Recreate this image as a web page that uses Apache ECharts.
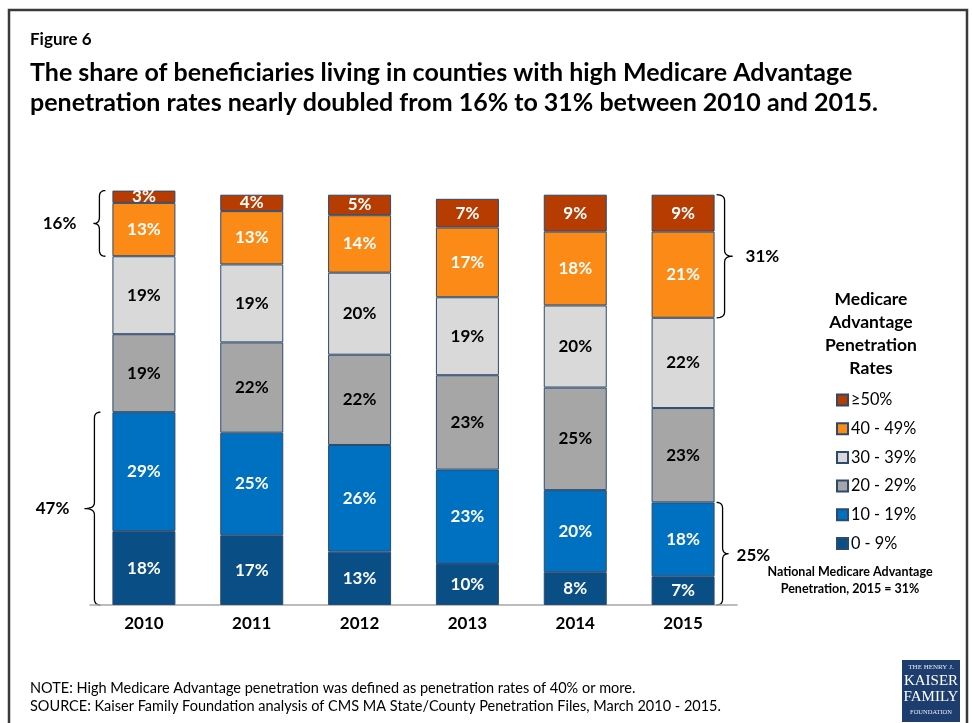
<!DOCTYPE html>
<html>
<head>
<meta charset="utf-8">
<script src="https://cdn.jsdelivr.net/npm/echarts@6/dist/echarts.min.js"></script>
<style>
  html, body { margin: 0; padding: 0; background: #fff; }
  #chart { width: 972px; height: 723px; }
</style>
</head>
<body>
<div id="chart"></div>
<script>
// Share of Medicare beneficiaries by county MA penetration rate, 2010-2015
const years = ['2010', '2011', '2012', '2013', '2014', '2015'];
const rate0to9 = [18, 17, 13, 10, 8, 7];
const rate10to19 = [29, 25, 26, 23, 20, 18];
const rate20to29 = [19, 22, 22, 23, 25, 23];
const rate30to39 = [19, 19, 20, 19, 20, 22];
const rate40to49 = [13, 13, 14, 17, 18, 21];
const rate50plus = [3, 4, 5, 7, 9, 9];

// Bracket labels: high-penetration share (>=40%) and low share (<20%), first and last year
const highShare = ['16%', '31%'];
const lowShare = ['47%', '25%'];

const FONT = 'Lato, "Open Sans", sans-serif';

const seriesDefs = [
  { name: '0 - 9%', data: rate0to9, color: '#0A4E86', text: '#fff' },
  { name: '10 - 19%', data: rate10to19, color: '#0070C0', text: '#fff' },
  { name: '20 - 29%', data: rate20to29, color: '#A6A6A6', text: '#000' },
  { name: '30 - 39%', data: rate30to39, color: '#D9D9D9', text: '#000' },
  { name: '40 - 49%', data: rate40to49, color: '#FB8A16', text: '#fff' },
  { name: '\u226550%', data: rate50plus, color: '#B63C02', text: '#fff' }
];

const chart = echarts.init(document.getElementById('chart'));

chart.setOption({
  backgroundColor: '#fff',
  animation: false,
  textStyle: { fontFamily: FONT },
  grid: { left: 90, right: 235, top: 194.7, bottom: 118, containLabel: false },
  xAxis: {
    type: 'category',
    data: years,
    axisLine: { show: true, lineStyle: { color: '#A6A6A6', width: 1.5 } },
    axisTick: { show: false },
    axisLabel: { margin: 10, fontSize: 17, fontWeight: 'bold', color: '#000', fontFamily: FONT }
  },
  yAxis: {
    type: 'value', min: 0, max: 100, show: false,
    splitLine: { show: false }
  },
  legend: {
    orient: 'vertical',
    left: 836,
    top: 391,
    padding: 0,
    itemWidth: 11,
    itemHeight: 11,
    itemGap: 10.7,
    icon: 'rect',
    data: seriesDefs.map(s => s.name).reverse(),
    textStyle: { fontSize: 16.3, color: '#000', lineHeight: 18, fontFamily: FONT, padding: [0, 0, 0, -2] }
  },
  series: seriesDefs.map(s => ({
    name: s.name,
    type: 'bar',
    stack: 'share',
    barWidth: 63,
    clip: false,
    data: s.data,
    itemStyle: { color: s.color, borderColor: '#2C4A6E', borderWidth: 1 },
    label: {
      show: true,
      position: 'inside',
      formatter: '{c}%',
      color: s.text,
      fontSize: 17,
      fontWeight: 'bold',
      fontFamily: FONT
    }
  }))
});

// Curly brace as a sampled polyline; dir = -1 points left, +1 points right
function bracePoints(xArm, y1, y2, dir, depth, tip) {
  const xs = xArm + dir * depth;
  const xt = xs + dir * tip;
  const ym = (y1 + y2) / 2;
  const r = 6;
  const pts = [];
  function quad(p0, c, p1) {
    for (let k = 0; k <= 8; k++) {
      const t = k / 8, u = 1 - t;
      pts.push([u * u * p0[0] + 2 * u * t * c[0] + t * t * p1[0],
                u * u * p0[1] + 2 * u * t * c[1] + t * t * p1[1]]);
    }
  }
  quad([xArm, y1], [xs, y1], [xs, y1 + r]);
  pts.push([xs, ym - r]);
  quad([xs, ym - r], [xs, ym], [xt, ym]);
  quad([xt, ym], [xs, ym], [xs, ym + r]);
  pts.push([xs, y2 - r]);
  quad([xs, y2 - r], [xs, y2], [xArm, y2]);
  return pts;
}

function cumulative(i, bands) {
  let s = 0;
  for (let k = 0; k < bands; k++) s += seriesDefs[k].data[i];
  return s;
}

function py(i, v) { return chart.convertToPixel({ gridIndex: 0 }, [i, v])[1]; }
function px(i) { return chart.convertToPixel({ gridIndex: 0 }, [i, 0])[0]; }

const half = 63 / 2;
const first = 0, last = years.length - 1;
const braceStyle = { stroke: '#000', lineWidth: 1.3, fill: null };
const braceText = { fontSize: 17, fontWeight: 'bold', fill: '#000', fontFamily: FONT };

// left braces on the first year
const lx = px(first) - half;
const hTop0 = py(first, cumulative(first, 6));
const hBot0 = py(first, cumulative(first, 4));
const lTop0 = py(first, cumulative(first, 2));
const lBot0 = py(first, 0);
// right braces on the last year
const rx = px(last) + half;
const hTop1 = py(last, cumulative(last, 6));
const hBot1 = py(last, cumulative(last, 4));
const lTop1 = py(last, cumulative(last, 2));
const lBot1 = py(last, 0);

function brace(pts) {
  return { type: 'polyline', shape: { points: pts }, style: braceStyle, silent: true };
}
function label(text, x, y, align, style) {
  return { type: 'text', x: x, y: y, silent: true,
    style: Object.assign({ text: text, align: align, verticalAlign: 'middle' }, style) };
}

const serif = '"Liberation Serif", serif';

const graphics = [
  // frame
  { type: 'rect', shape: { x: 9, y: 10, width: 958, height: 740 },
    style: { fill: null, stroke: '#3A3A3A', lineWidth: 2.5 }, silent: true },
  { type: 'text', x: 30, y: 40, silent: true,
    style: { text: 'Figure 6', fontSize: 17, fontWeight: 'bold', fill: '#000', fontFamily: FONT, verticalAlign: 'middle' } },
  { type: 'text', x: 30, y: 88, silent: true,
    style: { text: 'The share of beneficiaries living in counties with high Medicare Advantage\npenetration rates nearly doubled from 16% to 31% between 2010 and 2015.',
      fontSize: 25, fontWeight: 'bold', lineHeight: 30, fill: '#000', fontFamily: FONT, verticalAlign: 'middle' } },

  // braces
  brace(bracePoints(lx - 7, hTop0, hBot0, -1, 6, 6)),
  brace(bracePoints(lx - 12, lTop0, lBot0, -1, 6, 10)),
  brace(bracePoints(rx + 2, hTop1, hBot1, 1, 8, 8)),
  brace(bracePoints(rx + 2, lTop1, lBot1, 1, 6, 6)),
  label(highShare[0], lx - 36, (hTop0 + hBot0) / 2, 'right', braceText),
  label(lowShare[0], lx - 43, (lTop0 + lBot0) / 2, 'right', braceText),
  label(highShare[1], rx + 31, (hTop1 + hBot1) / 2, 'left', braceText),
  label(lowShare[1], rx + 22, (lTop1 + lBot1) / 2 + 2, 'left', braceText),

  // legend heading
  { type: 'text', x: 871, y: 334, silent: true,
    style: { text: 'Medicare\nAdvantage\nPenetration\nRates', align: 'center', verticalAlign: 'middle', fontSize: 17.5, fontWeight: 'bold',
      lineHeight: 23, fill: '#000', fontFamily: FONT } },
  { type: 'text', x: 850, y: 580, silent: true,
    style: { text: 'National Medicare Advantage\nPenetration, 2015 = 31%', align: 'center', verticalAlign: 'middle', fontSize: 12.5, fontWeight: 'bold',
      lineHeight: 17, fill: '#000', fontFamily: FONT } },

  // footnotes
  { type: 'text', x: 30, y: 697, silent: true,
    style: { text: 'NOTE: High Medicare Advantage penetration was defined as penetration rates of 40% or more.\nSOURCE: Kaiser Family Foundation analysis of CMS MA State/County Penetration Files, March 2010 - 2015.',
      fontSize: 14.5, lineHeight: 18, fill: '#000', fontFamily: FONT, verticalAlign: 'middle' } },

  // foundation logo
  { type: 'rect', shape: { x: 902, y: 660, width: 58, height: 62 }, style: { fill: '#1D3D6E' }, silent: true },
  label('THE HENRY J.', 931, 667, 'center', { fontSize: 7, fill: '#E8ECF3', fontFamily: serif }),
  label('KAISER', 931, 681, 'center', { fontSize: 15, fill: '#fff', fontFamily: serif }),
  label('FAMILY', 931, 697, 'center', { fontSize: 15, fill: '#fff', fontFamily: serif }),
  label('FOUNDATION', 931, 712, 'center', { fontSize: 6.5, fill: '#E8ECF3', fontFamily: serif })
];

chart.setOption({ graphic: graphics });
</script>
</body>
</html>
